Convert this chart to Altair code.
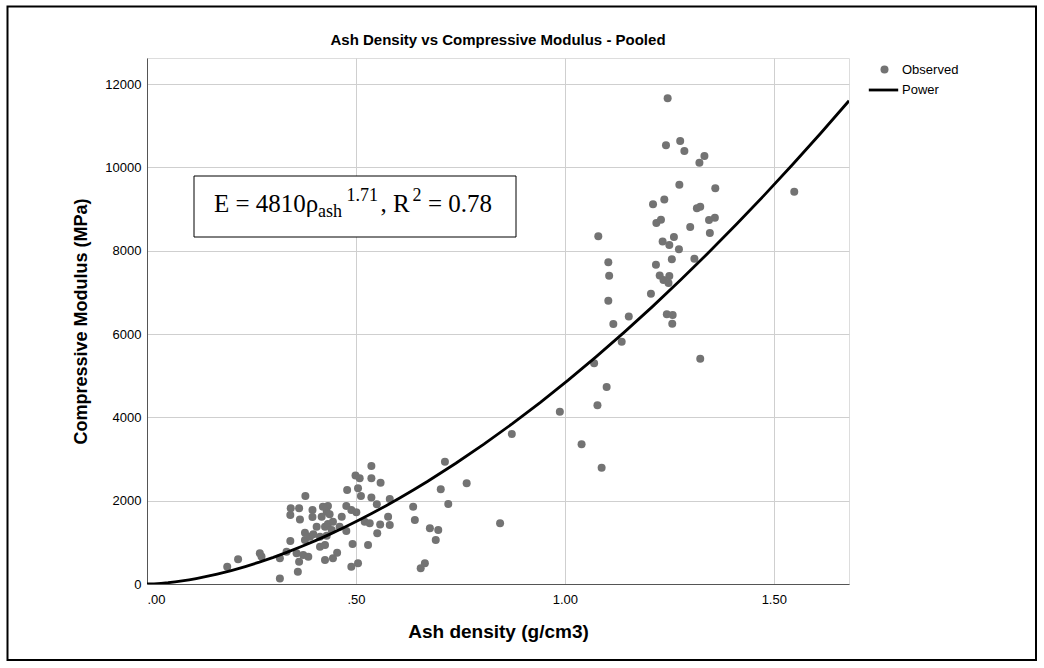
import altair as alt
import pandas as pd

TITLE = "Ash Density vs Compressive Modulus - Pooled"
X_TITLE = "Ash density (g/cm3)"
Y_TITLE = "Compressive Modulus (MPa)"
SERIES = ["Observed", "Power"]
X_TICKS = [0.0, 0.5, 1.0, 1.5]
Y_TICKS = [0, 2000, 4000, 6000, 8000, 10000, 12000]
X_DOMAIN = [0, 1.68]
Y_DOMAIN = [0, 12624]

density = [
    0.192, 0.218, 0.270, 0.274, 0.318, 0.318, 0.334, 0.343, 0.344, 0.343,
    0.361, 0.379, 0.364, 0.366, 0.396, 0.396, 0.433, 0.430, 0.418, 0.378,
    0.406, 0.426, 0.433, 0.414, 0.430, 0.378, 0.390, 0.414, 0.426, 0.374,
    0.386, 0.358, 0.364, 0.426, 0.445, 0.455, 0.421, 0.437, 0.445, 0.461,
    0.477, 0.442, 0.477, 0.489, 0.501, 0.466, 0.479, 0.505, 0.499, 0.509,
    0.537, 0.537, 0.559, 0.512, 0.537, 0.550, 0.581, 0.521, 0.533, 0.577,
    0.581, 0.558, 0.551, 0.492, 0.529, 0.489, 0.505, 0.637, 0.641, 0.655,
    0.665, 0.677, 0.697, 0.691, 0.703, 0.713, 0.721, 0.765, 0.845, 0.873,
    0.398,
    0.988, 1.040, 1.088, 1.070, 1.078, 1.100, 1.080, 1.104, 1.106, 1.104,
    1.116, 1.136, 1.153, 1.206, 1.227, 1.250, 1.236, 1.248, 1.244, 1.258,
    1.257, 1.324, 1.218, 1.256, 1.310, 1.234, 1.250, 1.273, 1.261, 1.300,
    1.347, 1.219, 1.230, 1.345, 1.359, 1.316, 1.324, 1.211, 1.238, 1.274,
    1.360, 1.242, 1.276, 1.286, 1.334, 1.322, 1.246, 1.549,
]
modulus = [
    415, 593, 737, 660, 132, 617, 775, 1032, 1817, 1656,
    295, 2112, 1817, 1548, 1776, 1608, 1872, 1735, 1615, 1231,
    1375, 1375, 1440, 1135, 1159, 1056, 1135, 895, 936, 696,
    655, 737, 535, 576, 617, 751, 1855, 1673, 1495, 1375,
    1272, 1296, 1872, 1776, 1721, 1615, 2256, 2297, 2604, 2537,
    2832, 2537, 2431, 2112, 2076, 1915, 2040, 1495, 1457, 1615,
    1416, 1428, 1217, 960, 936, 415, 497, 1855, 1536, 377,
    497, 1337, 1296, 1056, 2273, 2935, 1920, 2417, 1457, 3600,
    1193,
    4135, 3355, 2791, 5297, 4291, 4728, 8345, 7721, 7397, 6797,
    6240, 5815, 6420, 6967, 7404, 7392, 7296, 7224, 6475, 6456,
    6245, 5407, 7663, 7795, 7807, 8220, 8136, 8033, 8328, 8568,
    8424, 8664, 8743, 8736, 8791, 9017, 9055, 9115, 9226, 9583,
    9497, 10529, 10632, 10392, 10272, 10111, 11657, 9415,
]

EQ_PARTS = ["E = 4810ρ", "ash", "1.71", ", R", "2", "= 0.78"]

obs = pd.DataFrame({"density": density, "modulus": modulus, "series": SERIES[0]})
eq_df = pd.DataFrame({"part": EQ_PARTS})
title_df = pd.DataFrame({"title": [TITLE]})

W, H = 702, 526
PAD = {"left": 147, "top": 58, "right": 1044 - 147 - W, "bottom": 668 - 58 - H}
SANS = "Liberation Sans"
SERIF = "Liberation Serif"

x_enc = alt.X(
    "density:Q",
    scale=alt.Scale(domain=X_DOMAIN, nice=False, zero=False),
    axis=alt.Axis(
        values=X_TICKS,
        labelExpr="datum.value < 1 ? '.' + format(datum.value * 100, '02d') : format(datum.value, '.2f')",
        title=X_TITLE,
        labelPadding=9,
        titlePadding=16,
        titleFontSize=19,
    ),
)
y_enc = alt.Y(
    "modulus:Q",
    scale=alt.Scale(domain=Y_DOMAIN, nice=False),
    axis=alt.Axis(values=Y_TICKS, format="d", title=Y_TITLE, labelPadding=6, titlePadding=14),
)

points = alt.Chart(obs).mark_circle(size=64, opacity=1).encode(
    x=x_enc,
    y=y_enc,
    color=alt.Color(
        "series:N",
        scale=alt.Scale(domain=[SERIES[0]], range=["#737373"]),
        legend=alt.Legend(
            title=None, orient="none", legendX=731, legendY=5,
            symbolType="circle", symbolSize=64, labelOffset=11,
        ),
    ),
)

curve = (
    alt.Chart(obs)
    .transform_regression("density", "modulus", method="pow", extent=X_DOMAIN)
    .transform_calculate(series="'Power'")
    .mark_line(strokeWidth=2.8, clip=True)
    .encode(
        x="density:Q",
        y="modulus:Q",
        color=alt.Color(
            "series:N",
            scale=alt.Scale(domain=[SERIES[1]], range=["#000000"]),
            legend=alt.Legend(
                title=None, orient="none", legendX=720, legendY=15.5,
                symbolType="stroke", symbolSize=864, symbolStrokeWidth=2.8, labelOffset=2,
            ),
        ),
    )
)

box = alt.Chart(eq_df.head(1)).mark_rect(fill="white", stroke="black", strokeWidth=1).encode(
    x=alt.value(47), x2=alt.value(369), y=alt.value(118), y2=alt.value(179)
)

EQ_POS = {
    "E = 4810ρ": (67, 153.5, 25),
    "ash": (171, 158.5, 18),
    "1.71": (199.5, 143.0, 18),
    ", R": (233.5, 153.5, 25),
    "2": (265.5, 143.0, 18),
    "= 0.78": (281, 153.5, 25),
}
eq_layers = []
for part in EQ_PARTS:
    px, py, fs = EQ_POS[part]
    eq_layers.append(
        alt.Chart(eq_df)
        .transform_filter(alt.datum.part == part)
        .mark_text(align="left", baseline="alphabetic", font=SERIF, fontSize=fs, color="black")
        .encode(x=alt.value(px), y=alt.value(py), text="part:N")
    )

title_mark = alt.Chart(title_df).mark_text(
    align="center", baseline="alphabetic", font=SANS, fontSize=15, fontWeight="bold", color="black"
).encode(x=alt.value(W / 2), y=alt.value(-13), text="title:N")

frame = alt.Chart(eq_df.head(1)).mark_rect(fill=None, stroke="black", strokeWidth=2).encode(
    x=alt.value(-139.5), x2=alt.value(889), y=alt.value(-51.5), y2=alt.value(602)
)

chart = (
    alt.layer(frame, box, points, curve, title_mark, *eq_layers)
    .resolve_scale(color="independent")
    .properties(
        width=W,
        height=H,
        autosize=alt.AutoSizeParams(type="none"),
        padding=PAD,
    )
    .configure_view(stroke=None)
    .configure(background="white")
    .configure_axis(
        labelFont=SANS, labelFontSize=13, labelColor="black",
        titleFont=SANS, titleFontSize=18, titleFontWeight="bold", titleColor="black",
        gridColor="#cfcfcf", gridWidth=1, domainColor="#555555", domainWidth=1,
        ticks=False,
    )
    .configure_legend(labelFont=SANS, labelFontSize=13, labelColor="black")
)

chart.save("out.html", embed_options={"renderer": "svg", "actions": False})
